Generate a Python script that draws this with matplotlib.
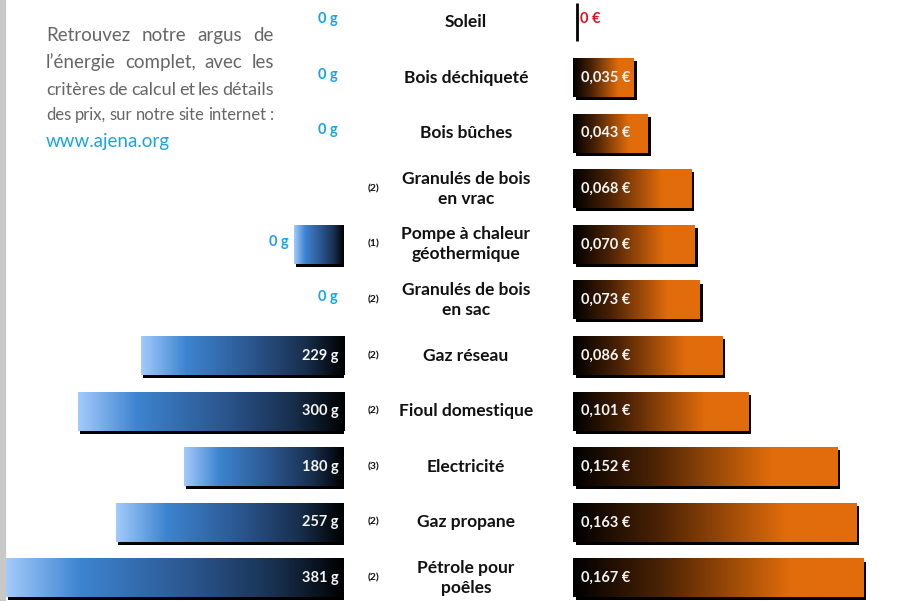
import numpy as np
import matplotlib
matplotlib.use('Agg')
import matplotlib.pyplot as plt
from matplotlib.colors import LinearSegmentedColormap
from matplotlib.transforms import ScaledTranslation, blended_transform_factory

# --- data ---
energies = ["Soleil", "Bois déchiqueté", "Bois bûches", "Granulés de bois\nen vrac",
            "Pompe à chaleur\ngéothermique", "Granulés de bois\nen sac", "Gaz réseau",
            "Fioul domestique", "Electricité", "Gaz propane", "Pétrole pour\npoêles"]
notes = ["", "", "", "(2)", "(1)", "(2)", "(2)", "(2)", "(3)", "(2)", "(2)"]
co2_g = [0, 0, 0, 0, 56, 0, 229, 300, 180, 257, 381]
co2_labels = ["0 g", "0 g", "0 g", "", "0 g", "0 g", "229 g", "300 g", "180 g", "257 g", "381 g"]
price_eur = [0, 0.035, 0.043, 0.068, 0.070, 0.073, 0.086, 0.101, 0.152, 0.163, 0.167]
price_labels = ["0 €", "0,035 €", "0,043 €", "0,068 €", "0,070 €", "0,073 €",
                "0,086 €", "0,101 €", "0,152 €", "0,163 €", "0,167 €"]
intro_lines = ["Retrouvez notre argus de", "l’énergie complet, avec les",
               "critères de calcul et les détails", "des prix, sur notre site internet :"]
url = "www.ajena.org"

W, H = 904, 601
fig = plt.figure(figsize=(W / 100, H / 100), dpi=100)
fig.patch.set_facecolor('white')

FONT = ['Lato', 'DejaVu Sans']

blue_cmap = LinearSegmentedColormap.from_list(
    'blue', [(0, '#a3cafb'), (0.22, '#3d84d0'), (0.55, '#2b558d'), (0.8, '#18304f'), (1, '#000000')])
orange_cmap = LinearSegmentedColormap.from_list(
    'orange', [(0, '#000000'), (0.3, '#4a2205'), (0.75, '#e16c0b'), (1, '#e36c0b')])
grad = np.linspace(0, 1, 256).reshape(1, -1)

n = len(energies)
row0, step = 22, 55.6          # pixel centre of first row, row spacing
ytop = -row0 / step
ybot = (H - row0) / step
bh = 0.70

# left axes (CO2), base at pixel 344, 0.887 px per g
gscale = 0.887
ax_l = fig.add_axes([0, 0, 344 / W, 1])
ax_l.set_xlim(344 / gscale, 0)
ax_l.set_ylim(ybot, ytop)
ax_l.axis('off')

# right axes (price), base at pixel 573, 1737 px per euro
escale = 1737
ax_r = fig.add_axes([573 / W, 0, (W - 573) / W, 1])
ax_r.set_xlim(0, (W - 573) / escale)
ax_r.set_ylim(ybot, ytop)
ax_r.axis('off')

def shift(ax, dx, dy):
    return ax.transData + ScaledTranslation(dx / 100, -dy / 100, fig.dpi_scale_trans)

for i in range(n):
    g = co2_g[i]
    if g > 0:
        ax_l.barh(i, g, height=bh, color='black', transform=shift(ax_l, 2, 3), zorder=1)
        ax_l.imshow(grad, cmap=blue_cmap, aspect='auto', zorder=2,
                    extent=(g, 0, i + bh / 2, i - bh / 2))
    p = price_eur[i]
    if p > 0:
        ax_r.barh(i, p, height=bh, color='black', transform=shift(ax_r, 3, 3), zorder=1)
        ax_r.imshow(grad, cmap=orange_cmap, aspect='auto', zorder=2,
                    extent=(0, p, i + bh / 2, i - bh / 2))
        ax_r.text(0, i, price_labels[i], color='#f4f4f4', fontsize=10.5, fontweight='bold',
                  family=FONT, va='center', ha='left', zorder=3,
                  transform=shift(ax_r, 8, 0))
    else:
        ax_r.vlines(0, i - 0.34, i + 0.34, color='black', lw=2,
                    transform=shift(ax_r, 4, 0), zorder=3)
        ax_r.text(0, i - 0.06, price_labels[i], color='#e3101b', fontsize=10.5,
                  fontweight='bold', family=FONT, va='center', ha='left',
                  transform=shift(ax_r, 7, 0))

    lab = co2_labels[i]
    if lab:
        if g > 56:
            ax_l.text(0, i, lab, color='#f4f4f4', fontsize=10.5, fontweight='bold', family=FONT,
                      va='center', ha='right', zorder=3, transform=shift(ax_l, -5, 0))
        else:
            ax_l.text(g, i - 0.05, lab, color='#1aa3e4', fontsize=10.5, fontweight='bold',
                      family=FONT, va='center', ha='right', transform=shift(ax_l, -6, 0))

# centre labels and footnote marks
tr = blended_transform_factory(fig.transFigure, ax_r.transData)
for i in range(n):
    fig.text(466 / W, i, energies[i], transform=tr, ha='center', va='center',
             fontsize=12.5, fontweight='bold', family=FONT, linespacing=1.3, color='#111111')
    if notes[i]:
        fig.text(374 / W, i, notes[i], transform=tr, ha='center', va='center',
                 fontsize=7.5, fontweight='bold', family=FONT, color='#111111')

# grey rule on the left edge
fig.add_artist(plt.Line2D([3 / W, 3 / W], [0, 1], color='#c8c8c8', lw=4.5))

# justified intro paragraph
renderer = fig.canvas.get_renderer()
x0, x1 = 46, 274
baselines = [41, 68, 95, 120]
for line, yb in zip(intro_lines, baselines):
    words = line.split(' ')
    size = 13.5
    while True:
        arts = [fig.text(0, 0, w, fontsize=size, family=FONT,
                         color='#666666', va='baseline') for w in words]
        widths = [a.get_window_extent(renderer).width for a in arts]
        space = size * 1.39 * 0.16
        if sum(widths) + space * (len(words) - 1) <= (x1 - x0) or size < 8:
            break
        for a in arts:
            a.remove()
        size -= 0.25
    gap = ((x1 - x0) - sum(widths)) / (len(words) - 1)
    x = x0
    for a, wd in zip(arts, widths):
        a.set_position((x / W, 1 - yb / H))
        x += wd + gap
fig.text(x0 / W, 1 - 147 / H, url, fontsize=13.5, family=FONT,
         color='#1aa3e4', va='baseline')

fig.savefig('out.png', dpi=100, facecolor='white')
